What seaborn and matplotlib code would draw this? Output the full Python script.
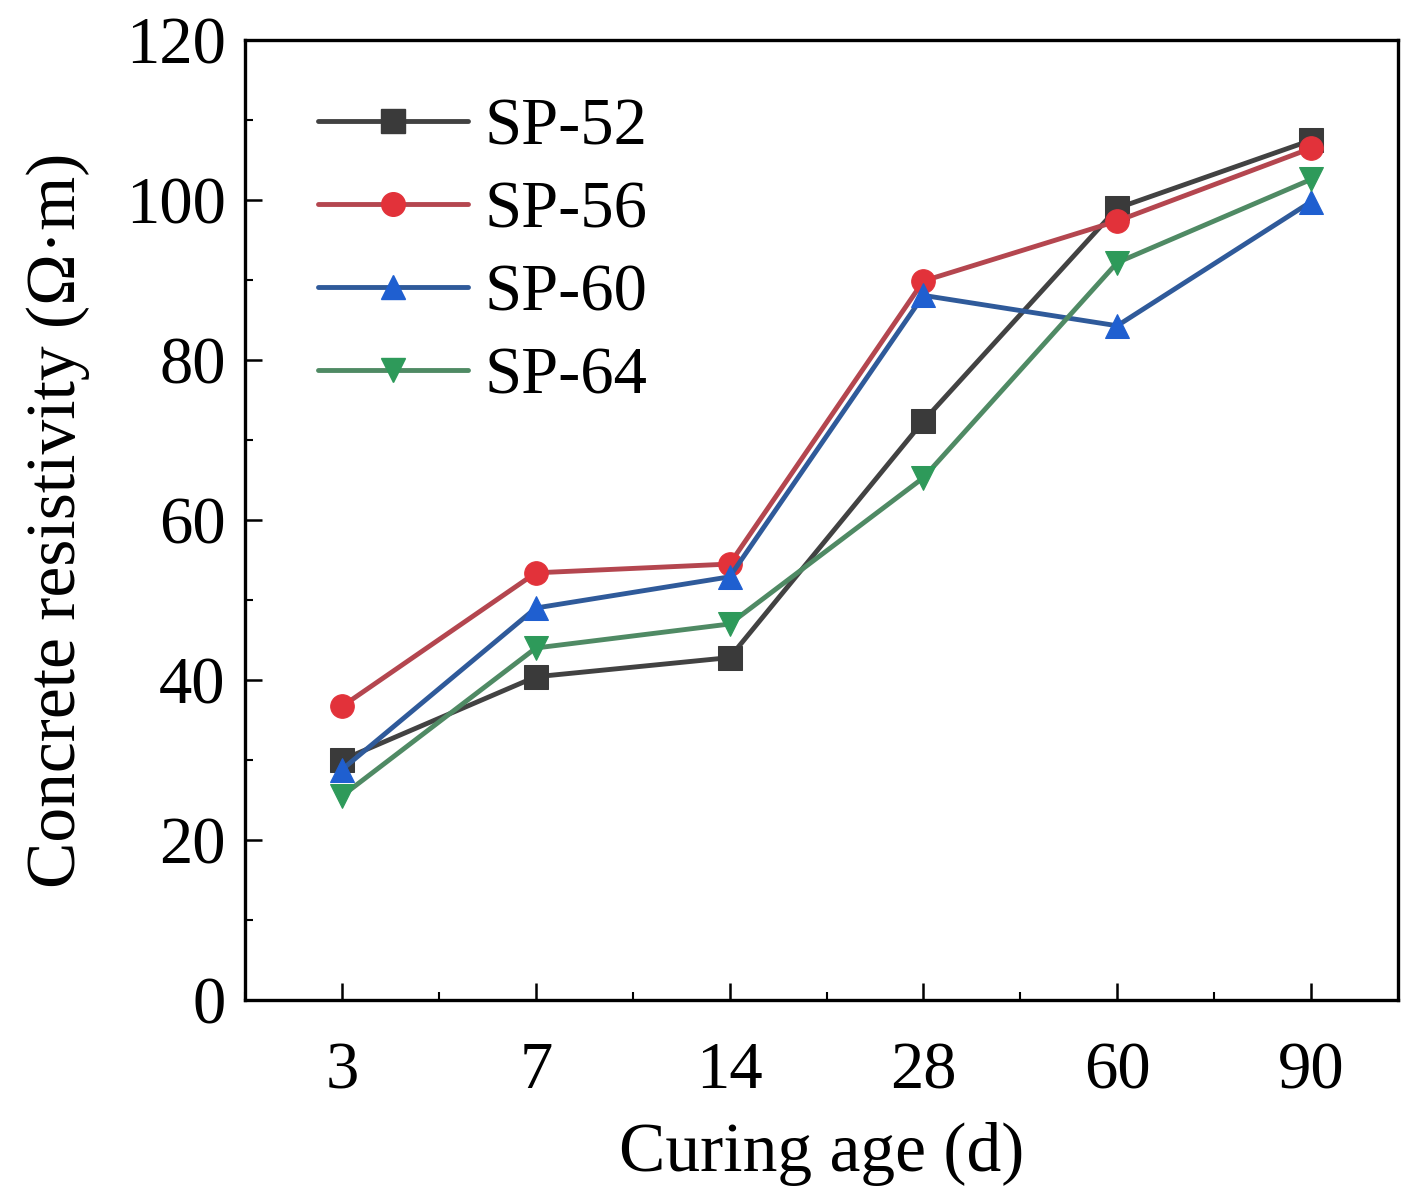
import matplotlib
matplotlib.use("Agg")
import matplotlib.pyplot as plt
import seaborn as sns
import pandas as pd
from matplotlib.ticker import MultipleLocator
from matplotlib.lines import Line2D

ages = ["3", "7", "14", "28", "60", "90"]
series_names = ["SP-52", "SP-56", "SP-60", "SP-64"]
sp52 = [30.0, 40.4, 42.8, 72.4, 99.0, 107.5]
sp56 = [36.7, 53.4, 54.5, 89.9, 97.4, 106.5]
sp60 = [28.8, 49.0, 52.9, 88.1, 84.3, 99.8]
sp64 = [25.5, 44.0, 47.0, 65.3, 92.2, 102.6]

line_colors = ["#424242", "#b4464f", "#2f5a9a", "#4f8a64"]
marker_colors = ["#3a3a3a", "#e2323a", "#1f5fd0", "#2e9a5a"]
marker_shapes = ["s", "o", "^", "v"]

rows = []
for name, vals in zip(series_names, [sp52, sp56, sp60, sp64]):
    for i, (a, v) in enumerate(zip(ages, vals)):
        rows.append({"pos": i, "age": a, "value": v, "series": name})
df = pd.DataFrame(rows)

sns.set_theme(style="ticks")
plt.rcParams["font.family"] = ["Liberation Serif", "DejaVu Serif"]
plt.rcParams["text.color"] = "black"
plt.rcParams["axes.labelcolor"] = "black"
plt.rcParams["xtick.color"] = "black"
plt.rcParams["ytick.color"] = "black"

fig = plt.figure(figsize=(14.01, 11.86), dpi=100)
ax = fig.add_axes([0.175, 0.157, 0.823, 0.809])

sns.lineplot(data=df, x="pos", y="value", hue="series", style="series",
             hue_order=series_names, style_order=series_names,
             palette=dict(zip(series_names, line_colors)),
             markers=dict(zip(series_names, marker_shapes)),
             dashes=False, linewidth=3.5, markersize=17, ax=ax, legend=False)

for line, mc in zip(ax.lines, marker_colors):
    line.set_markerfacecolor(mc)
    line.set_markeredgecolor(mc)
    line.set_markersize(17)

ax.set_xlim(-0.5, 5.45)
ax.set_ylim(0, 120)
ax.set_xticks(range(len(ages)))
ax.set_xticklabels(ages)
ax.xaxis.set_minor_locator(MultipleLocator(0.5))
ax.yaxis.set_major_locator(MultipleLocator(20))
ax.yaxis.set_minor_locator(MultipleLocator(10))

ax.tick_params(which="major", direction="in", length=12, width=1.8,
               labelsize=48, pad=14, colors="black")
ax.tick_params(axis="x", which="major", pad=30)
ax.tick_params(which="minor", direction="in", length=6, width=1.5)
ax.tick_params(top=False, right=False, which="both")

for s in ax.spines.values():
    s.set_linewidth(2.4)
    s.set_color("black")

ax.set_xlabel("Curing age (d)", fontsize=50, labelpad=14, color="black")
ax.set_ylabel("Concrete resistivity (Ω·m)", fontsize=50, labelpad=26, color="black")

handles = [Line2D([0], [0], color=lc, lw=3.5, marker=m, markersize=17,
                  markerfacecolor=mc, markeredgecolor=mc)
           for lc, mc, m in zip(line_colors, marker_colors, marker_shapes)]
ax.legend(handles, series_names, loc="upper left", frameon=False,
          fontsize=48, handlelength=2.25, handletextpad=0.25,
          labelspacing=0.33, bbox_to_anchor=(0.040, 0.968), borderaxespad=0,
          labelcolor="black")

fig.savefig("out.png", dpi=100)
